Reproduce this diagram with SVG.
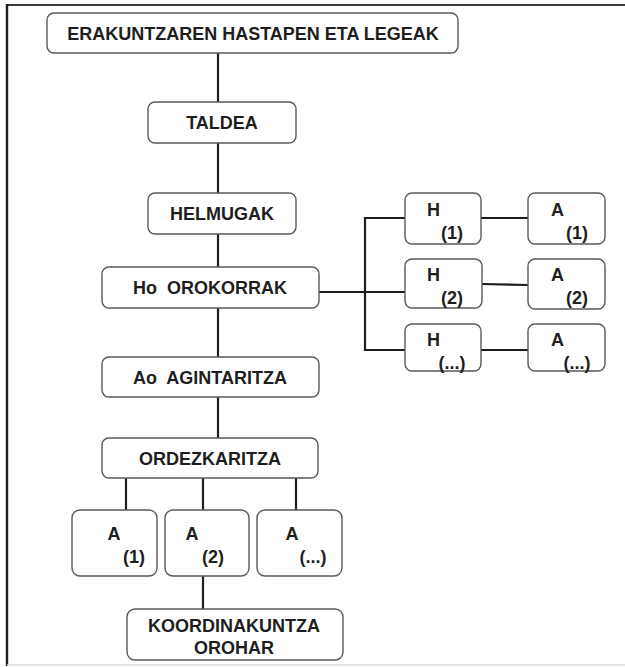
<svg xmlns="http://www.w3.org/2000/svg" width="625" height="667" viewBox="0 0 625 667">
  <style>
    .box { fill: #ffffff; stroke: #5a5a5a; stroke-width: 1.4; }
    .lbl { font-family: "Liberation Sans", Arial, sans-serif; font-weight: bold; font-size: 18px; fill: #1e1e1e; }
    .mid { text-anchor: middle; }
    .wire { fill: none; stroke: #1e1e1e; stroke-width: 2.2; }
  </style>
  <rect width="625" height="667" fill="#ffffff"/>

  <!-- page frame -->
  <g id="frame">
    <line x1="7" y1="5" x2="625" y2="5" stroke="#3a3a3a" stroke-width="2.2"/>
    <line x1="7" y1="4" x2="7" y2="666" stroke="#1e1e1e" stroke-width="2.4"/>
    <line x1="7" y1="665" x2="625" y2="665" stroke="#dcdcdc" stroke-width="1.5"/>
  </g>

  <!-- connectors -->
  <g id="connectors" class="wire">
    <line x1="218" y1="53" x2="218" y2="102"/>
    <line x1="218" y1="143" x2="218" y2="193"/>
    <line x1="218" y1="234" x2="218" y2="267"/>
    <line x1="218" y1="308" x2="218" y2="357"/>
    <line x1="218" y1="397" x2="218" y2="438"/>
    <!-- goals branch -->
    <line x1="319" y1="292" x2="405" y2="292"/>
    <polyline points="405,218 365,218 365,350 405,350"/>
    <line x1="481" y1="218" x2="528" y2="218"/>
    <line x1="482" y1="284" x2="528" y2="285"/>
    <line x1="481" y1="350" x2="528" y2="350"/>
    <!-- delegation branch -->
    <line x1="126" y1="478" x2="126" y2="510"/>
    <line x1="203" y1="478" x2="203" y2="510"/>
    <line x1="296" y1="478" x2="296" y2="510"/>
    <line x1="203" y1="576" x2="203" y2="609"/>
  </g>

  <g id="n-hastapen">
    <rect class="box" x="47" y="13" width="411" height="40" rx="7"/>
    <text class="lbl mid" x="253" y="40">ERAKUNTZAREN HASTAPEN ETA LEGEAK</text>
  </g>
  <g id="n-taldea">
    <rect class="box" x="148" y="102" width="148" height="41" rx="7"/>
    <text class="lbl mid" x="222" y="129">TALDEA</text>
  </g>
  <g id="n-helmugak">
    <rect class="box" x="148" y="193" width="148" height="41" rx="7"/>
    <text class="lbl mid" x="222" y="220">HELMUGAK</text>
  </g>
  <g id="n-orokorrak">
    <rect class="box" x="102" y="267" width="217" height="41" rx="7"/>
    <text class="lbl mid" x="210" y="294" xml:space="preserve">Ho  OROKORRAK</text>
  </g>
  <g id="n-agintaritza">
    <rect class="box" x="102" y="357" width="217" height="40" rx="7"/>
    <text class="lbl mid" x="210" y="383.5" xml:space="preserve">Ao  AGINTARITZA</text>
  </g>
  <g id="n-ordezkaritza">
    <rect class="box" x="102" y="438" width="216" height="40" rx="7"/>
    <text class="lbl mid" x="210" y="464.5">ORDEZKARITZA</text>
  </g>

  <!-- goal / authority pairs -->
  <g id="n-h1">
    <rect class="box" x="405" y="193" width="76" height="51" rx="7"/>
    <text class="lbl" x="427" y="216">H</text>
    <text class="lbl mid" x="452" y="239">(1)</text>
  </g>
  <g id="n-a1">
    <rect class="box" x="528" y="193" width="77" height="51" rx="7"/>
    <text class="lbl" x="551" y="216">A</text>
    <text class="lbl mid" x="577" y="239">(1)</text>
  </g>
  <g id="n-h2">
    <rect class="box" x="405" y="259" width="77" height="49" rx="7"/>
    <text class="lbl" x="427" y="281">H</text>
    <text class="lbl mid" x="452" y="304">(2)</text>
  </g>
  <g id="n-a2">
    <rect class="box" x="528" y="259" width="77" height="50" rx="7"/>
    <text class="lbl" x="551" y="281">A</text>
    <text class="lbl mid" x="577" y="304">(2)</text>
  </g>
  <g id="n-h3">
    <rect class="box" x="405" y="324" width="76" height="47" rx="7"/>
    <text class="lbl" x="427" y="346">H</text>
    <text class="lbl mid" x="452" y="369">(...)</text>
  </g>
  <g id="n-a3">
    <rect class="box" x="528" y="324" width="77" height="47" rx="7"/>
    <text class="lbl" x="551" y="346">A</text>
    <text class="lbl mid" x="577" y="369">(...)</text>
  </g>

  <!-- delegated authorities -->
  <g id="n-ord-a1">
    <rect class="box" x="72" y="510" width="85" height="66" rx="8"/>
    <text class="lbl mid" x="114" y="540">A</text>
    <text class="lbl mid" x="134" y="563">(1)</text>
  </g>
  <g id="n-ord-a2">
    <rect class="box" x="165" y="510" width="84" height="66" rx="8"/>
    <text class="lbl mid" x="192" y="540">A</text>
    <text class="lbl mid" x="213" y="563">(2)</text>
  </g>
  <g id="n-ord-a3">
    <rect class="box" x="257" y="510" width="85" height="66" rx="8"/>
    <text class="lbl mid" x="292" y="540">A</text>
    <text class="lbl mid" x="313" y="563">(...)</text>
  </g>

  <g id="n-koordinakuntza">
    <rect class="box" x="127" y="609" width="216" height="51" rx="8"/>
    <text class="lbl mid" x="234" y="632">KOORDINAKUNTZA</text>
    <text class="lbl mid" x="234" y="654">OROHAR</text>
  </g>
</svg>
